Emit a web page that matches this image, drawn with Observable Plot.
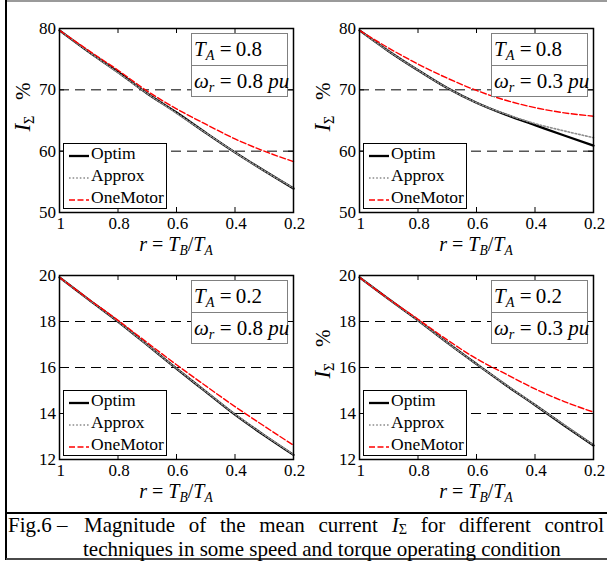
<!DOCTYPE html>
<html>
<head>
<meta charset="utf-8">
<script src="https://cdn.jsdelivr.net/npm/d3@7"></script>
<script src="https://cdn.jsdelivr.net/npm/@observablehq/plot@0.6"></script>
<style>
  html, body { margin: 0; padding: 0; background: white; }
  #fig { position: relative; width: 607px; height: 562px; overflow: hidden; background: white; font-family: "Liberation Serif", "Times New Roman", serif; color: black; }
  #fig * { font-family: "Liberation Serif", "Times New Roman", serif; }
  .abs { position: absolute; }
  .panel { position: absolute; width: 307px; height: 262px; }
  .panel svg { position: absolute; left: 0; top: 0; overflow: visible; max-width: none; }
  .sub { position: relative; top: 0.28em; font-size: 0.68em; }
  .it { font-style: italic; }
  .annot { position: absolute; left: 191px; top: 33px; width: 97px; height: 64px; box-sizing: border-box; border: 1.5px solid #808080; background: white; }
  .annot .row { position: absolute; left: 2px; font-size: 21px; line-height: 21px; white-space: nowrap; }
  .annot .div { position: absolute; left: 0; right: 0; top: 31px; border-top: 1.5px solid #808080; }
  .legend { position: absolute; left: 63px; top: 143px; width: 104px; height: 66px; box-sizing: border-box; border: 1.5px solid black; background: white; }
  .legend .txt { position: absolute; left: 27px; font-size: 17.5px; line-height: 17.5px; white-space: nowrap; }
  .legend svg { position: absolute; left: 5px; }
  .ylab { position: absolute; transform: translate(-50%, -50%) rotate(-90deg); white-space: nowrap; font-size: 21px; line-height: 21px; }
  .xlab { position: absolute; transform: translateX(-50%); white-space: nowrap; font-size: 20px; line-height: 16px; }
</style>
</head>
<body>
<div id="fig"></div>
<script>
// ---------- data ----------
const rValues = [1, 0.9, 0.8, 0.7, 0.6, 0.5, 0.4, 0.3, 0.2];
const xTicks = [1, 0.8, 0.6, 0.4, 0.2];
const yTicksHigh = [50, 60, 70, 80];
const yTicksLow = [12, 14, 16, 18, 20];
const gridHigh = [60, 70];
const gridLow = [14, 16, 18];

// Panel 1: T_A = 0.8, w_r = 0.8 pu
const p1Optim    = [79.7, 76.2, 72.9, 69.4, 66.3, 63.0, 59.8, 56.8, 53.9];
const p1Approx   = [79.7, 76.2, 72.8, 69.4, 66.2, 63.0, 59.8, 56.8, 54.0];
const p1OneMotor = [79.7, 76.4, 73.2, 69.8, 66.9, 64.4, 62.0, 60.0, 58.3];
// Panel 2: T_A = 0.8, w_r = 0.3 pu
const p2Optim    = [79.7, 76.3, 73.2, 70.3, 67.9, 65.95, 64.25, 62.55, 60.9];
const p2Approx   = [79.7, 76.3, 73.2, 70.3, 67.9, 66.05, 64.5, 63.3, 62.2];
const p2OneMotor = [79.7, 76.8, 74.2, 71.9, 69.9, 68.3, 67.1, 66.25, 65.7];
// Panel 3: T_A = 0.2, w_r = 0.8 pu
const p3Optim    = [19.92, 18.95, 18.0, 16.98, 15.95, 14.95, 13.95, 13.05, 12.2];
const p3Approx   = [19.92, 18.95, 18.0, 16.98, 15.96, 14.96, 13.97, 13.07, 12.22];
const p3OneMotor = [19.92, 18.97, 18.05, 17.08, 16.12, 15.2, 14.3, 13.45, 12.62];
// Panel 4: T_A = 0.2, w_r = 0.3 pu
const p4Optim    = [19.92, 18.97, 18.05, 17.08, 16.15, 15.24, 14.37, 13.48, 12.61];
const p4Approx   = [19.92, 18.97, 18.05, 17.08, 16.15, 15.25, 14.38, 13.5, 12.63];
const p4OneMotor = [19.92, 18.98, 18.1, 17.2, 16.38, 15.72, 15.07, 14.52, 14.06];

const seriesNames = ["Optim", "Approx", "OneMotor"];
const panelTA = ["0.8", "0.8", "0.2", "0.2"];
const panelWr = ["0.8", "0.3", "0.8", "0.3"];
const captionNum = "Fig.6 –";
const captionLine1 = "Magnitude of the mean current";
const captionLine1b = "for different control";
const captionLine2 = "techniques in some speed and torque operating condition";

// ---------- layout ----------
const fig = document.getElementById("fig");
const W = 307, H = 262, ML = 59, MR = 14, MT = 28, MB = 50;
const FW = W - ML - MR, FH = H - MT - MB;

const styles = {
  Optim:    {stroke: "black", strokeWidth: 2.3},
  Approx:   {stroke: "#8c8c8c", strokeWidth: 1.6, strokeDasharray: "1.6,2"},
  OneMotor: {stroke: "#ff0000", strokeWidth: 1.4, strokeDasharray: "6,2.5"}
};

function addLine(x, y, w, h, color) {
  const d = document.createElement("div");
  d.className = "abs";
  Object.assign(d.style, {left: x + "px", top: y + "px", width: w + "px", height: h + "px", background: color});
  fig.appendChild(d);
}

function makePanel(left, top, yDomain, yTicks, grid, optim, approx, one, ta, wr, showYLabel) {
  const data = rValues.map((r, i) => ({r, Optim: optim[i], Approx: approx[i], OneMotor: one[i]}));
  const wrap = document.createElement("div");
  wrap.className = "panel";
  wrap.style.left = left + "px";
  wrap.style.top = top + "px";
  const plot = Plot.plot({
    width: W, height: H,
    marginLeft: ML, marginRight: MR, marginTop: MT, marginBottom: MB,
    x: {domain: [1, 0.2], label: null},
    y: {domain: yDomain, label: null},
    style: {fontFamily: "'Liberation Serif', 'Times New Roman', serif", fontSize: "17px", color: "black", background: "transparent", overflow: "visible"},
    marks: [
      Plot.ruleY(grid, {y: d => d, stroke: "black", strokeWidth: 1, strokeDasharray: "10,6"}),
      ...seriesNames.map(s => Plot.line(data, {x: "r", y: s, curve: "monotone-x", ...styles[s]})),
      Plot.frame({stroke: "black", strokeWidth: 1.5}),
      Plot.tickX(xTicks, {x: d => d, insetTop: FH - 5, stroke: "black"}),
      Plot.tickX(xTicks, {x: d => d, insetBottom: FH - 5, stroke: "black"}),
      Plot.tickY(yTicks, {y: d => d, insetRight: FW - 5, stroke: "black"}),
      Plot.tickY(yTicks, {y: d => d, insetLeft: FW - 5, stroke: "black"}),
      Plot.axisX(xTicks, {anchor: "bottom", tickSize: 0, tickPadding: 4, dx: 1.2, label: null, tickFormat: d => String(d)}),
      Plot.axisY(yTicks, {anchor: "left", tickSize: 0, tickPadding: 3.5, label: null, tickFormat: d => String(d)})
    ]
  });
  wrap.appendChild(plot);

  // annotation box
  const an = document.createElement("div");
  an.className = "annot";
  an.innerHTML =
    `<div class="row" style="top:5px"><span class="it">T</span><span class="sub it">A</span> =\u2009${ta}</div>` +
    `<div class="div"></div>` +
    `<div class="row" style="top:37px"><span class="it">ω</span><span class="sub it">r</span> = ${wr} <span class="it">pu</span></div>`;
  wrap.appendChild(an);

  // legend
  const lg = document.createElement("div");
  lg.className = "legend";
  seriesNames.forEach((s, i) => {
    const st = styles[s];
    const yTop = 1 + i * 22;
    const sw = `<svg width="21" height="6" style="top:${yTop + 8}px"><line x1="0" y1="3" x2="20" y2="3" stroke="${st.stroke}" stroke-width="${st.strokeWidth}" ${st.strokeDasharray ? `stroke-dasharray="${st.strokeDasharray}"` : ""}/></svg>`;
    lg.insertAdjacentHTML("beforeend", sw + `<div class="txt" style="top:${yTop}px">${s}</div>`);
  });
  wrap.appendChild(lg);

  // y label
  if (showYLabel) {
    const yl = document.createElement("div");
    yl.className = "ylab";
    yl.style.left = "24px";
    yl.style.top = "107px";
    yl.innerHTML = `<span class="it" style="font-size:23px">I</span><span class="sub">Σ</span>&nbsp;&nbsp;&nbsp;%`;
    wrap.appendChild(yl);
  }
  // x label
  const xl = document.createElement("div");
  xl.className = "xlab";
  xl.style.left = "176px";
  xl.style.top = "236px";
  xl.innerHTML = `<span class="it">r</span> = <span class="it">T</span><span class="sub it">B</span>/<span class="it">T</span><span class="sub it">A</span>`;
  wrap.appendChild(xl);

  fig.appendChild(wrap);
}

makePanel(0, 0, [50, 80], yTicksHigh, gridHigh, p1Optim, p1Approx, p1OneMotor, panelTA[0], panelWr[0], true);
makePanel(300, 0, [50, 80], yTicksHigh, gridHigh, p2Optim, p2Approx, p2OneMotor, panelTA[1], panelWr[1], true);
makePanel(0, 247, [12, 20], yTicksLow, gridLow, p3Optim, p3Approx, p3OneMotor, panelTA[2], panelWr[2], false);
makePanel(300, 247, [12, 20], yTicksLow, gridLow, p4Optim, p4Approx, p4OneMotor, panelTA[3], panelWr[3], true);

// outer frame lines
addLine(6, 0, 601, 2, "#9a9a9a");
addLine(5, 0, 2, 560, "black");
addLine(6, 512, 601, 2, "black");
addLine(6, 558, 601, 2, "#4a4a4a");

// caption
const c0 = document.createElement("div");
c0.className = "abs";
Object.assign(c0.style, {left: "8px", top: "515px", fontSize: "21px", lineHeight: "21px", whiteSpace: "nowrap"});
c0.textContent = captionNum;
fig.appendChild(c0);

const c1 = document.createElement("div");
c1.className = "abs";
Object.assign(c1.style, {left: "84px", top: "515px", width: "520px", fontSize: "21px", lineHeight: "21px", whiteSpace: "nowrap", textAlign: "justify", textAlignLast: "justify"});
c1.innerHTML = `${captionLine1} <span class="it">I</span><span style="position:relative;top:0.15em;font-size:0.68em">Σ</span> ${captionLine1b}`;
fig.appendChild(c1);

const c2 = document.createElement("div");
c2.className = "abs";
Object.assign(c2.style, {left: "83px", top: "541.5px", fontSize: "21px", lineHeight: "14px", whiteSpace: "nowrap"});
c2.textContent = captionLine2;
fig.appendChild(c2);
</script>
</body>
</html>
